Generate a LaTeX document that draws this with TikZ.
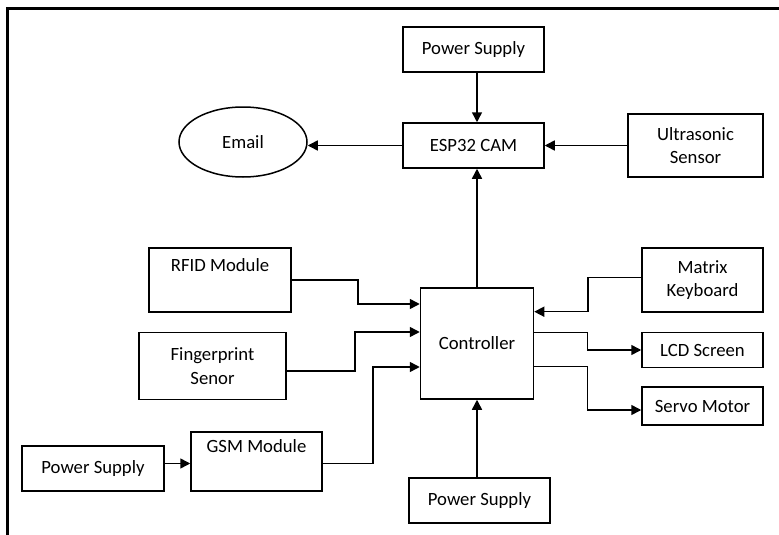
\documentclass[tikz,border=0pt]{standalone}
\usepackage{fontspec}
\setmainfont{Carlito}
\usetikzlibrary{arrows.meta,shapes.geometric}

\begin{document}
\begin{tikzpicture}[x=1pt,y=-1pt,
    blk/.style={draw,line width=1.5pt,align=center,inner sep=0pt,
      font=\fontsize{18.7}{23.4}\selectfont},
    arr/.style={draw,line width=1.5pt,-{Triangle[length=10pt,width=10pt]}}]

      \useasboundingbox (0,0) rectangle (779,535);
      \draw[line width=3pt] (7,535) -- (7,9) -- (779,9);

      \begin{scope}[every node/.style={blk}]
        \node[minimum width=141pt,minimum height=45pt] (psTop)   at (473.5,49.5)  {Power Supply};
        \node[minimum width=141pt,minimum height=45pt] (esp)     at (473.5,145.5) {ESP32 CAM};
        \node[minimum width=135pt,minimum height=63pt] (ultra)   at (695.5,145.5) {Ultrasonic\\Sensor};
        \node[ellipse,minimum width=128pt,minimum height=70pt] (email) at (243,142) {Email};
        \node[minimum width=142pt,minimum height=64pt] (rfid)    at (220,280)     {RFID Module\\\strut};
        \node[minimum width=147pt,minimum height=67pt] (finger)  at (212.5,366)   {Fingerprint\\Senor};
        \node[minimum width=142pt,minimum height=45pt] (psLeft)  at (93,468.5)    {Power Supply};
        \node[minimum width=131pt,minimum height=59pt] (gsm)     at (256.5,461.5) {GSM Module\\\strut};
        \node[minimum width=113pt,minimum height=111pt] (ctrl)   at (477,343.5)   {Controller};
        \node[minimum width=121pt,minimum height=64pt] (matrix)  at (702.5,280)   {Matrix\\Keyboard};
        \node[minimum width=121pt,minimum height=35pt] (lcd)     at (702.5,350)   {LCD Screen};
        \node[minimum width=121pt,minimum height=38pt] (servo)   at (702.5,406)   {Servo Motor};
        \node[minimum width=141pt,minimum height=45pt] (psBot)   at (479.5,500.5) {Power Supply};
      \end{scope}

      % ESP32 CAM side
      \path[arr] (psTop.south -| ctrl.north) -- (esp.north -| ctrl.north);
      \path[arr] (ultra.west |- esp.east) -- (esp.east);
      \path[arr] (esp.west) -- (email.east |- esp.west);
      \path[arr] (ctrl.north) -- (ctrl.north |- esp.south);

      % inputs on the left
      \path[arr] (rfid.east) -- ++(66,0) |- ([yshift=39.5pt]ctrl.west);
      \path[arr] ([yshift=-5pt]finger.east) -- ++(68,0) |- ([yshift=11.5pt]ctrl.west);
      \path[arr] ([yshift=-2pt]gsm.east) -- ++(50,0) |- ([yshift=-23.5pt]ctrl.west);
      \path[arr] ([yshift=5pt]psLeft.east) -- ([yshift=5pt]psLeft.east -| gsm.west);

      % right side
      \path[arr] ([yshift=2.3pt]matrix.west) -- ++(-53.4,0) |- ([yshift=31.8pt]ctrl.east);
      \path[arr] ([yshift=11.2pt]ctrl.east) -- ++(53.3,0) |- (lcd.west);
      \path[arr] ([yshift=-23.2pt]ctrl.east) -- ++(53.3,0) |- ([yshift=-4pt]servo.west);
      \path[arr] (psBot.north -| ctrl.south) -- (ctrl.south);

\end{tikzpicture}
\end{document}
